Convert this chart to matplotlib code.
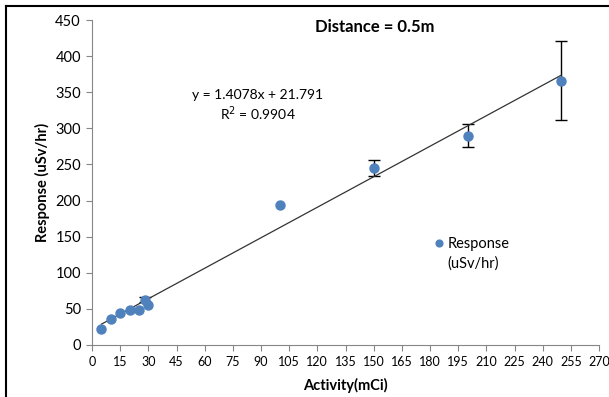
import matplotlib
matplotlib.use("Agg")
import matplotlib.pyplot as plt
from matplotlib.lines import Line2D
import numpy as np

activity = [5, 10, 15, 20, 25, 28, 30, 100, 150, 200, 250]
response = [22, 36, 45, 49, 49, 63, 56, 194, 245, 290, 366]
errors = [0, 0, 0, 0, 0, 4, 0, 0, 11.5, 15.5, 55]
slope = 1.4078
intercept = 21.791
r2 = 0.9904
x_ticks = list(range(0, 271, 15))
y_ticks = list(range(0, 451, 50))

plt.rcParams['font.family'] = ['Lato', 'DejaVu Sans']

fig = plt.figure(figsize=(6.09, 3.97), dpi=100)
ax = fig.add_axes([92/609, 1-345/397, (599-92)/609, (345-20)/397])

blue = '#4F81BD'
gray = '#868686'

ex = [a for a, e in zip(activity, errors) if e > 0]
ey = [r for r, e in zip(response, errors) if e > 0]
ee = [e for e in errors if e > 0]
ax.errorbar(ex, ey, yerr=ee, fmt='none', ecolor='black',
            elinewidth=1, capsize=4, capthick=1, zorder=2)
ax.plot(activity, response, 'o', color=blue, markersize=6.5, zorder=3,
        label='Response')
xf = np.array([min(activity), max(activity)])
ax.plot(xf, slope*xf + intercept, color='#333333', lw=0.9, zorder=2)

ax.set_xlim(0, 270)
ax.set_ylim(0, 450)
ax.set_xticks(x_ticks)
ax.set_yticks(y_ticks)
ax.tick_params(axis='x', labelsize=9, length=4, color=gray, pad=4)
ax.tick_params(axis='y', labelsize=10.5, length=4, color=gray, pad=4)
for s in ['top', 'right']:
    ax.spines[s].set_visible(False)
for s in ['left', 'bottom']:
    ax.spines[s].set_color(gray)

ax.set_xlabel('Activity(mCi)', fontsize=10.5, fontweight='bold', labelpad=7)
ax.set_ylabel('Response (uSv/hr)', fontsize=10.5, fontweight='bold', labelpad=4)

fig.text(375/609, 1-27/397, 'Distance = 0.5m', fontsize=12, fontweight='bold',
         ha='center', va='center')
fig.text(258/609, 1-95/397, f'y = {slope}x + {intercept}', fontsize=10,
         ha='center', va='center')
fig.text(258/609, 1-114/397, f'R$^2$ = {r2}', fontsize=10,
         ha='center', va='center')

leg = ax.legend(loc='center left', bbox_to_anchor=((432-92)/609*609/507, (345-244)/325),
                frameon=False, fontsize=10.5, handletextpad=0.1,
                handlelength=1.0, markerscale=0.75, borderaxespad=0,
                borderpad=0)
fig.text(447/609, 1-264/397, '(uSv/hr)', fontsize=10.5, ha='left', va='center')

fig.add_artist(Line2D([6/609, 6/609], [0, 1-6/397], color='black', lw=1.5,
                      transform=fig.transFigure))
fig.add_artist(Line2D([6/609, 1], [1-6/397, 1-6/397], color='black', lw=1.5,
                      transform=fig.transFigure))

fig.savefig('out.png', dpi=100)
